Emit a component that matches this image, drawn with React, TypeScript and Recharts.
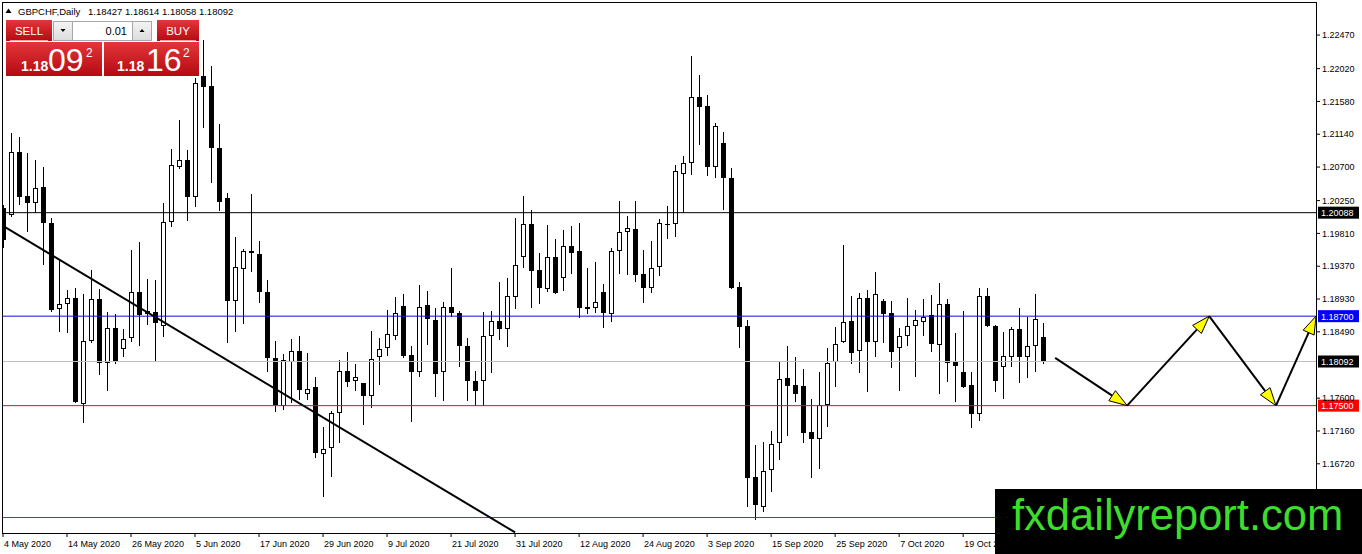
import React from 'react';
import { ComposedChart, Bar, XAxis, YAxis, ReferenceLine } from 'recharts';

// daily GBPCHF, bar 0 = 4 May 2020, bar 130 = current bar
const opens = [
  1.2015, 1.2006, 1.2090, 1.2031, 1.2022, 1.2043, 1.1995, 1.1880, 1.1886, 1.1894,
  1.1752, 1.1837, 1.1893, 1.1807, 1.1854, 1.1826, 1.1841, 1.1902, 1.1873, 1.1876,
  1.1857, 1.1996, 1.2070, 1.2079, 1.2030, 1.2192, 1.2179, 1.2096, 1.2029, 1.1890,
  1.1933, 1.1957, 1.1953, 1.1902, 1.1814, 1.1750, 1.1809, 1.1823, 1.1766, 1.1775,
  1.1685, 1.1693, 1.1740, 1.1796, 1.1783, 1.1780, 1.1763, 1.1815, 1.1827, 1.1844,
  1.1884, 1.1818, 1.1795, 1.1885, 1.1865, 1.1795, 1.1882, 1.1874, 1.1830, 1.1783,
  1.1783, 1.1844, 1.1864, 1.1853, 1.1896, 1.1949, 1.1994, 1.1932, 1.1906, 1.1949,
  1.1921, 1.1964, 1.1957, 1.1882, 1.1881, 1.1902, 1.1873, 1.1957, 1.1983, 1.1987,
  1.1927, 1.1908, 1.1936, 1.1994, 1.1994, 1.2061, 1.2075, 1.2164, 1.2152, 1.2070,
  1.2102, 1.2055, 1.1909, 1.1857, 1.1654, 1.1614, 1.1664, 1.1700, 1.1787, 1.1778,
  1.1776, 1.1714, 1.1705, 1.1751, 1.1809, 1.1835, 1.1864, 1.1823, 1.1894, 1.1835,
  1.1890, 1.1874, 1.1827, 1.1844, 1.1857, 1.1862, 1.1872, 1.1831, 1.1886, 1.1809,
  1.1795, 1.1778, 1.1739, 1.1897, 1.1857, 1.1802, 1.1815, 1.1853, 1.1815, 1.1830,
  1.18427,
];
const highs = [
  1.2019, 1.2116, 1.2110, 1.2089, 1.2079, 1.2070, 1.2002, 1.1945, 1.1905, 1.1908,
  1.1900, 1.1932, 1.1906, 1.1876, 1.1873, 1.1853, 1.1959, 1.1970, 1.1920, 1.1919,
  1.2022, 1.2094, 1.2133, 1.2093, 1.2189, 1.2240, 1.2206, 1.2128, 1.2035, 1.1976,
  1.1960, 1.2034, 1.1971, 1.1919, 1.1837, 1.1819, 1.1839, 1.1843, 1.1821, 1.1788,
  1.1721, 1.1743, 1.1811, 1.1822, 1.1806, 1.1781, 1.1850, 1.1841, 1.1878, 1.1896,
  1.1900, 1.1830, 1.1912, 1.1904, 1.1881, 1.1889, 1.1935, 1.1877, 1.1841, 1.1796,
  1.1876, 1.1877, 1.1916, 1.1921, 1.2002, 1.2031, 1.2012, 1.1955, 1.1992, 1.1974,
  1.1986, 1.1991, 1.1995, 1.1935, 1.1943, 1.1913, 1.1962, 1.2024, 1.2004, 1.2024,
  1.1959, 1.1971, 1.2000, 1.2018, 1.2073, 1.2085, 1.2219, 1.2193, 1.2167, 1.2129,
  1.2117, 1.2069, 1.1916, 1.1865, 1.1697, 1.1701, 1.1716, 1.1809, 1.1830, 1.1815,
  1.1799, 1.1759, 1.1795, 1.1827, 1.1856, 1.1965, 1.1897, 1.1901, 1.1905, 1.1929,
  1.1893, 1.1890, 1.1854, 1.1894, 1.1878, 1.1893, 1.1898, 1.1914, 1.1893, 1.1847,
  1.1877, 1.1795, 1.1908, 1.1908, 1.1858, 1.1849, 1.1856, 1.1881, 1.1869, 1.1900,
  1.18614,
];
const lows = [
  1.1962, 1.2003, 1.2019, 1.1983, 1.2008, 1.1939, 1.1876, 1.1849, 1.1848, 1.1754,
  1.1727, 1.1834, 1.1791, 1.1770, 1.1806, 1.1815, 1.1835, 1.1830, 1.1858, 1.1809,
  1.1842, 1.1990, 1.2067, 1.1998, 1.2016, 1.2122, 1.2049, 1.2011, 1.1834, 1.1849,
  1.1860, 1.1929, 1.1888, 1.1795, 1.1741, 1.1744, 1.1754, 1.1758, 1.1758, 1.1680,
  1.1628, 1.1654, 1.1700, 1.1775, 1.1770, 1.1724, 1.1747, 1.1778, 1.1817, 1.1838,
  1.1814, 1.1728, 1.1788, 1.1831, 1.1762, 1.1756, 1.1869, 1.1802, 1.1756, 1.1750,
  1.1750, 1.1794, 1.1838, 1.1829, 1.1880, 1.1935, 1.1881, 1.1886, 1.1902, 1.1900,
  1.1904, 1.1927, 1.1868, 1.1873, 1.1874, 1.1854, 1.1862, 1.1927, 1.1925, 1.1916,
  1.1888, 1.1901, 1.1924, 1.1974, 1.1976, 1.2008, 1.2059, 1.2100, 1.2058, 1.2055,
  1.2012, 1.1906, 1.1827, 1.1614, 1.1597, 1.1607, 1.1634, 1.1677, 1.1709, 1.1755,
  1.1700, 1.1653, 1.1665, 1.1721, 1.1775, 1.1834, 1.1806, 1.1794, 1.1768, 1.1815,
  1.1834, 1.1801, 1.1770, 1.1830, 1.1788, 1.1844, 1.1822, 1.1766, 1.1782, 1.1755,
  1.1774, 1.1720, 1.1729, 1.1856, 1.1768, 1.1759, 1.1802, 1.1780, 1.1787, 1.1795,
  1.18058,
];
const closes = [
  1.1972, 1.2090, 1.2030, 1.2022, 1.2042, 1.1995, 1.1878, 1.1886, 1.1894, 1.1755,
  1.1837, 1.1893, 1.1807, 1.1854, 1.1809, 1.1839, 1.1902, 1.1872, 1.1877, 1.1861,
  1.1996, 1.2073, 1.2079, 1.2030, 1.2183, 1.2177, 1.2096, 1.2023, 1.1890, 1.1936,
  1.1957, 1.1955, 1.1902, 1.1814, 1.1751, 1.1811, 1.1823, 1.1771, 1.1772, 1.1687,
  1.1692, 1.1740, 1.1796, 1.1782, 1.1788, 1.1763, 1.1813, 1.1826, 1.1846, 1.1874,
  1.1817, 1.1795, 1.1882, 1.1866, 1.1792, 1.1882, 1.1874, 1.1830, 1.1783, 1.1770,
  1.1844, 1.1864, 1.1853, 1.1897, 1.1939, 1.1994, 1.1931, 1.1908, 1.1949, 1.1901,
  1.1964, 1.1955, 1.1881, 1.1880, 1.1889, 1.1874, 1.1957, 1.1983, 1.1988, 1.1925,
  1.1908, 1.1935, 1.1995, 1.1992, 1.2065, 1.2075, 1.2164, 1.2151, 1.2070, 1.2125,
  1.2055, 1.1908, 1.1856, 1.1653, 1.1617, 1.1662, 1.1699, 1.1786, 1.1776, 1.1766,
  1.1713, 1.1705, 1.1751, 1.1807, 1.1833, 1.1862, 1.1821, 1.1894, 1.1835, 1.1900,
  1.1873, 1.1822, 1.1844, 1.1857, 1.1865, 1.1869, 1.1833, 1.1886, 1.1807, 1.1803,
  1.1775, 1.1739, 1.1897, 1.1857, 1.1783, 1.1817, 1.1853, 1.1815, 1.1830, 1.1866,
  1.18092,
];

const dateTickBars = [0, 8, 16, 24, 32, 40, 48, 56, 64, 72, 80, 88, 96, 104, 112, 120];
const dateTickLabels = [
  '4 May 2020', '14 May 2020', '26 May 2020', '5 Jun 2020', '17 Jun 2020', '29 Jun 2020',
  '9 Jul 2020', '21 Jul 2020', '31 Jul 2020', '12 Aug 2020', '24 Aug 2020', '3 Sep 2020',
  '15 Sep 2020', '25 Sep 2020', '7 Oct 2020', '19 Oct 2020',
];
// 1.18050 and 1.16280 sit under the bid tag and the watermark, so they are left out
const priceTicks = [
  1.2247, 1.2202, 1.2158, 1.2114, 1.207, 1.2025, 1.1981, 1.1937, 1.1893, 1.1849,
  1.176, 1.1716, 1.1672,
];

// horizontal levels drawn on the chart
const levelPrices = [1.20088, 1.187, 1.18092, 1.175];
const levelLineColors = ['#000000', '#1010d0', '#c0c0c0', '#e01010'];
const levelTagColors = ['#000000', '#0000ff', '#000000', '#ff0000'];
const lowerSupport = 1.16;

// trend line and forecast zigzag (bar index, price)
const trendLine = [{ x: 0, y: 1.1991 }, { x: 64, y: 1.158 }];
const forecastPath = [
  { x: 131.5, y: 1.1814 },
  { x: 140.5, y: 1.175 },
  { x: 150.75, y: 1.187 },
  { x: 159.1, y: 1.175 },
  { x: 164.1, y: 1.187 },
];

const X_MAX = 164.1;
const Y_MIN = 1.15792;
const Y_MAX = 1.229;

const FONT = '"Liberation Sans", Arial, sans-serif';

const candles = opens.map((open, i) => ({
  idx: i,
  open,
  high: highs[i],
  low: lows[i],
  close: closes[i],
}));

const Candle = (props: any) => {
  const { x, y, width, height, payload } = props;
  if (!payload) return null;
  const { open, close, high, low } = payload;
  const top = Math.min(y, y + height);
  const bottom = Math.max(y, y + height);
  const span = high - low;
  const toY = (p: number) => (span === 0 ? top : top + ((high - p) / span) * (bottom - top));
  const cx = Math.floor(x + width / 2);
  const wickTop = Math.round(toY(high));
  const wickBottom = Math.round(toY(low));
  const bodyTop = Math.round(toY(Math.max(open, close)));
  let bodyBottom = Math.round(toY(Math.min(open, close)));
  if (bodyBottom - bodyTop < 1) bodyBottom = bodyTop + 1;
  const bull = close > open;
  return (
    <g>
      <line x1={cx + 0.5} x2={cx + 0.5} y1={wickTop} y2={wickBottom} stroke="#000" strokeWidth={1} />
      {bull ? (
        <rect
          x={cx - 1.5}
          y={bodyTop + 0.5}
          width={4}
          height={Math.max(bodyBottom - bodyTop - 1, 0.5)}
          fill="#fff"
          stroke="#000"
          strokeWidth={1}
        />
      ) : (
        <rect x={cx - 2} y={bodyTop} width={5} height={bodyBottom - bodyTop} fill="#000" />
      )}
    </g>
  );
};

const LevelTag = (props: any) => {
  const { viewBox, fill, text } = props;
  if (!viewBox) return null;
  const x = viewBox.x + viewBox.width + 2;
  const y = viewBox.y;
  return (
    <g>
      <rect x={x} y={y - 6} width={41} height={12} fill={fill} />
      <text x={x + 3} y={y + 3.5} fill="#fff" fontSize={9} fontFamily={FONT}>
        {text}
      </text>
    </g>
  );
};

const Arrow = (props: any) => {
  const { x1, y1, x2, y2 } = props;
  const a = Math.atan2(y2 - y1, x2 - x1);
  const len = 18;
  const half = 6;
  const bx = x2 - len * Math.cos(a);
  const by = y2 - len * Math.sin(a);
  const nx = -Math.sin(a) * half;
  const ny = Math.cos(a) * half;
  return (
    <g>
      <line x1={x1} y1={y1} x2={bx} y2={by} stroke="#000" strokeWidth={2} />
      <polygon
        points={`${x2},${y2} ${bx + nx},${by + ny} ${bx - nx},${by - ny}`}
        fill="#ffff00"
        stroke="#000"
        strokeWidth={1}
        strokeLinejoin="miter"
      />
    </g>
  );
};

const DateTick = (props: any) => {
  const { x, y, payload } = props;
  const i = dateTickBars.indexOf(payload.value);
  return (
    <text x={x + 1} y={y + 9.5} fontSize={9} fontFamily={FONT} fill="#000" textAnchor="start">
      {i >= 0 ? dateTickLabels[i] : ''}
    </text>
  );
};

const PriceTick = (props: any) => {
  const { x, y, payload } = props;
  return (
    <text x={x} y={y + 3.2} fontSize={9} fontFamily={FONT} fill="#000" textAnchor="start">
      {Number(payload.value).toFixed(5)}
    </text>
  );
};

const Overlay = () => (
  <svg
    width={1362}
    height={554}
    style={{ position: 'absolute', left: 0, top: 0, pointerEvents: 'none' }}
    fontFamily={FONT}
  >
    <defs>
      <linearGradient id="redBox" x1="0" y1="0" x2="0" y2="1">
        <stop offset="0%" stopColor="#e4363a" />
        <stop offset="100%" stopColor="#b40a12" />
      </linearGradient>
      <linearGradient id="greyBtn" x1="0" y1="0" x2="0" y2="1">
        <stop offset="0%" stopColor="#f4f4f4" />
        <stop offset="100%" stopColor="#dcdcdc" />
      </linearGradient>
    </defs>

    {/* chart frame */}
    <rect x={2.5} y={2.5} width={1314} height={531} fill="none" stroke="#000" strokeWidth={1} />

    {/* header */}
    <polygon points="5.5,13 8.5,8.5 11.5,13" fill="#000" />
    <text x={18} y={14.5} fontSize={9.5} fill="#000">GBPCHF,Daily</text>
    <text x={88} y={14.5} fontSize={9.5} fill="#000">1.18427 1.18614 1.18058 1.18092</text>

    {/* one click trading panel */}
    <rect x={6} y={20} width={46} height={21} fill="url(#redBox)" />
    <line x1={10} x2={48} y1={40.5} y2={40.5} stroke="#f3a0a0" strokeWidth={1} />
    <text x={29} y={35} fontSize={11.5} fill="#fff" textAnchor="middle">SELL</text>

    <rect x={53.5} y={21.5} width={98} height={19} fill="#fff" stroke="#a8a8a8" />
    <rect x={53.5} y={21.5} width={19} height={19} fill="url(#greyBtn)" stroke="#a8a8a8" />
    <polygon points="60.5,29 65.5,29 63,32" fill="#000" />
    <rect x={132.5} y={21.5} width={19} height={19} fill="url(#greyBtn)" stroke="#a8a8a8" />
    <polygon points="139.5,32 144.5,32 142,29" fill="#000" />
    <text x={127} y={35} fontSize={11} fill="#000" textAnchor="end">0.01</text>

    <rect x={157} y={20} width={42} height={21} fill="url(#redBox)" />
    <line x1={160} x2={196} y1={40.5} y2={40.5} stroke="#f3a0a0" strokeWidth={1} />
    <text x={178} y={35} fontSize={11.5} fill="#fff" textAnchor="middle">BUY</text>

    <rect x={6} y={42} width={96} height={34} fill="url(#redBox)" />
    <text x={21} y={71} fontSize={14} fontWeight="bold" fill="#fff">1.18</text>
    <text x={48} y={71} fontSize={32} fill="#fff">09</text>
    <text x={86} y={57} fontSize={12} fill="#fff">2</text>

    <rect x={104} y={42} width={95} height={34} fill="url(#redBox)" />
    <text x={117} y={71} fontSize={14} fontWeight="bold" fill="#fff">1.18</text>
    <text x={146} y={71} fontSize={32} fill="#fff">16</text>
    <text x={183} y={57} fontSize={12} fill="#fff">2</text>

    {/* watermark */}
    <rect x={995} y={489} width={367} height={65} fill="#000" />
    <text x={1012} y={530} fontSize={43.5} fill="#3edc2c">fxdailyreport.com</text>
  </svg>
);

const App: React.FC = () => {
  return (
    <div
      style={{
        position: 'absolute',
        left: 0,
        top: 0,
        width: 1362,
        height: 554,
        overflow: 'hidden',
        background: '#fff',
        fontFamily: FONT,
      }}
    >
      <ComposedChart width={1362} height={554} data={candles} margin={{ top: 3, right: 0, bottom: 0, left: 3 }}>
        <XAxis
          dataKey="idx"
          type="number"
          domain={[0, X_MAX]}
          allowDataOverflow
          ticks={dateTickBars}
          interval={0}
          height={21}
          axisLine={false}
          tickLine={{ stroke: '#000' }}
          tickSize={4}
          tickMargin={0}
          tick={<DateTick />}
        />
        <YAxis
          orientation="right"
          type="number"
          domain={[Y_MIN, Y_MAX]}
          allowDataOverflow
          ticks={priceTicks}
          interval={0}
          width={46}
          axisLine={false}
          tickLine={{ stroke: '#000' }}
          tickSize={4}
          tickMargin={2}
          tick={<PriceTick />}
        />
        <ReferenceLine y={lowerSupport} stroke="#e01010" strokeWidth={1} />
        {levelPrices.map((p, i) => (
          <ReferenceLine
            key={p}
            y={p}
            stroke={levelLineColors[i]}
            strokeWidth={1}
            label={<LevelTag fill={levelTagColors[i]} text={p.toFixed(5)} />}
          />
        ))}
        <Bar
          dataKey={(d: any) => [d.low, d.high]}
          barSize={5}
          shape={<Candle />}
          isAnimationActive={false}
        />
        <ReferenceLine segment={trendLine} stroke="#000" strokeWidth={2} />
        {forecastPath.slice(0, -1).map((pt, i) => (
          <ReferenceLine
            key={`fc-${i}`}
            segment={[pt, forecastPath[i + 1]]}
            stroke="#000"
            strokeWidth={2}
            shape={<Arrow />}
          />
        ))}
      </ComposedChart>
      <Overlay />
    </div>
  );
};

export default App;
